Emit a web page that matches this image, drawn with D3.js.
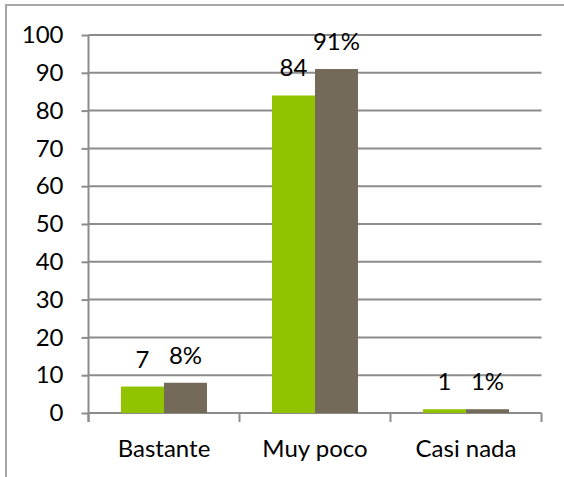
<!DOCTYPE html>
<html>
<head>
<meta charset="utf-8">
<script src="https://cdn.jsdelivr.net/npm/d3@7"></script>
<style>
  html, body { margin: 0; padding: 0; background: #fff; }
  svg text { font-family: Lato, "Open Sans", sans-serif; font-size: 24px; fill: #000; }
</style>
</head>
<body>
<svg id="chart" width="564" height="477"></svg>
<script>
// Chart data
const categories = ["Bastante", "Muy poco", "Casi nada"];
const countValues = [7, 84, 1];        // first series (count)
const percentValues = [8, 91, 1];      // second series (percent)
const yTicks = [0, 10, 20, 30, 40, 50, 60, 70, 80, 90, 100];

const seriesKeys = ["count", "percent"];
const seriesColors = { count: "#92c300", percent: "#736a5a" };
const seriesFormat = { count: d => `${d}`, percent: d => `${d}%` };

const rows = categories.map((c, i) => ({
  category: c,
  count: countValues[i],
  percent: percentValues[i]
}));

const svg = d3.select("#chart");
const FONT = "Lato, sans-serif";
const FONT_SIZE = 24;

// outer frame
svg.append("path")
  .attr("d", "M6,477 V5 H564")
  .attr("fill", "none")
  .attr("stroke", "#a6a6a6")
  .attr("stroke-width", 2);

const plot = { left: 88.5, right: 541.5, top: 35, bottom: 413 };

const x = d3.scaleBand()
  .domain(categories)
  .range([plot.left, plot.right])
  .paddingInner(0)
  .paddingOuter(0);

const xInner = d3.scaleBand()
  .domain(seriesKeys)
  .range([0, x.bandwidth()])
  .paddingOuter(0.756)
  .paddingInner(0);

const y = d3.scaleLinear().domain([0, 100]).range([plot.bottom, plot.top]);

const gridColor = "#8c8c8c";

// y ticks
const yAxis = svg.append("g")
  .attr("transform", `translate(${plot.left},0)`)
  .call(d3.axisLeft(y).tickValues(yTicks).tickSize(7).tickPadding(18).tickFormat(d3.format("d")));
yAxis.select(".domain").remove();
yAxis.selectAll(".tick line").attr("stroke", gridColor).attr("stroke-width", 2);
yAxis.selectAll(".tick text").attr("font-size", FONT_SIZE).attr("font-family", FONT).attr("fill", "#000");

// horizontal gridlines
svg.append("g")
  .selectAll("line")
  .data(yTicks)
  .join("line")
  .attr("x1", plot.left)
  .attr("x2", plot.right)
  .attr("y1", d => y(d))
  .attr("y2", d => y(d))
  .attr("stroke", gridColor)
  .attr("stroke-width", 2);

// bars
const groups = svg.append("g")
  .selectAll("g")
  .data(rows)
  .join("g")
  .attr("transform", d => `translate(${x(d.category)},0)`);

groups.selectAll("rect")
  .data(d => seriesKeys.map(k => ({ key: k, value: d[k] })))
  .join("rect")
  .attr("x", d => xInner(d.key))
  .attr("width", xInner.bandwidth())
  .attr("y", d => y(d.value))
  .attr("height", d => y(0) - y(d.value))
  .attr("fill", d => seriesColors[d.key]);

// value labels
groups.selectAll("text")
  .data(d => seriesKeys.map(k => ({ key: k, value: d[k] })))
  .join("text")
  .attr("x", d => xInner(d.key) + xInner.bandwidth() / 2)
  .attr("y", d => y(d.value) - 19)
  .attr("text-anchor", "middle")
  .text(d => seriesFormat[d.key](d.value));

// x axis
const xAxis = svg.append("g")
  .attr("transform", `translate(0,${plot.bottom})`)
  .call(d3.axisBottom(x).tickSize(0).tickPadding(0));
xAxis.select(".domain").remove();
xAxis.selectAll(".tick text")
  .attr("font-size", FONT_SIZE)
  .attr("font-family", FONT)
  .attr("fill", "#000")
  .attr("dy", null)
  .attr("y", 44);

// category separators
const bounds = categories.map(c => x(c)).concat([plot.right]);
svg.append("g")
  .selectAll("line")
  .data(bounds)
  .join("line")
  .attr("x1", d => d)
  .attr("x2", d => d)
  .attr("y1", plot.bottom)
  .attr("y2", plot.bottom + 9)
  .attr("stroke", gridColor)
  .attr("stroke-width", 2);

// vertical axis line
svg.append("line")
  .attr("x1", plot.left).attr("x2", plot.left)
  .attr("y1", plot.top).attr("y2", plot.bottom + 9)
  .attr("stroke", gridColor)
  .attr("stroke-width", 2);
</script>
</body>
</html>
